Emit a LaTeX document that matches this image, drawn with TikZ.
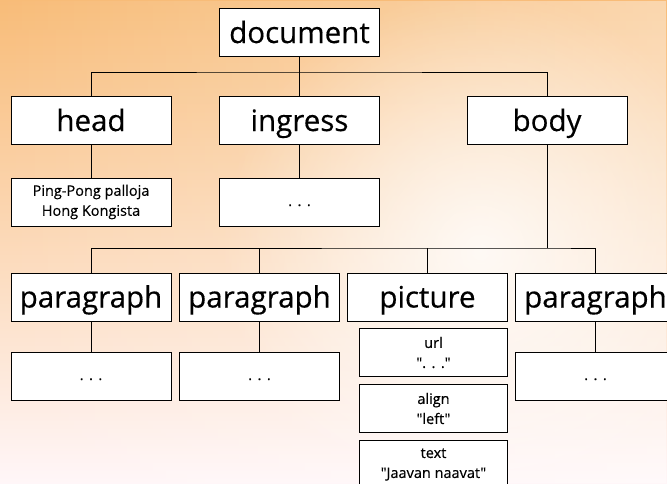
\documentclass[tikz,border=0pt]{standalone}
\usepackage{fontspec}
\newfontfamily\labelfont{Open Sans}[FakeBold=0.4]
\usepackage{tikz}
\usetikzlibrary{positioning,fadings}
\definecolor{bgorange}{RGB}{248,188,120}
\definecolor{bgyellow}{RGB}{252,214,148}
\definecolor{bgwhite}{RGB}{255,246,248}
\tikzfading[name=glow, inner color=transparent!0, outer color=transparent!100]
\newcommand\ellip{.\kern5.5pt.\kern5.5pt.}
\tikzset{
  tag/.style={draw, fill=white, line width=1pt, minimum width=160pt, minimum height=48pt,
              inner sep=0pt, text height=23pt, text depth=2pt,
              font=\labelfont\fontsize{29.5}{32}\selectfont},
  leaf/.style={draw, fill=white, line width=1pt, minimum width=160pt, minimum height=48pt,
               inner sep=0pt, align=center, font=\labelfont\fontsize{14.5}{20}\selectfont},
  attr/.style={leaf, minimum width=148pt},
  wire/.style={line width=1pt},
}

\begin{document}
\begin{tikzpicture}[x=1pt, y=-1pt]
  \useasboundingbox (0,0) rectangle (667,483);
  % background
  \shade[top color=bgorange, middle color=bgyellow, bottom color=bgwhite] (0,0) rectangle (667,483);
  \fill[white, path fading=west, fill opacity=0.4] (0,0) rectangle (667,483);
  \fill[white, path fading=glow, fill opacity=0.8] (480,250) circle (260);

  \node[tag] (doc) at (299.5,32.5) {document};
  \node[tag] (head) at (91,120.5) {head};
  \node[tag] (ingress) at (299.5,120.5) {ingress};
  \node[tag] (body) at (547,120.5) {body};

  \node[leaf] (title) at (91,202) {Ping-Pong palloja\\Hong Kongista};
  \node[leaf] (ingtext) at (299.5,202) {\strut\ellip};

  \node[tag] (para1) at (91,297) {paragraph};
  \node[tag] (para2) at (259.5,297) {paragraph};
  \node[tag] (pic) at (427.5,297) {picture};
  \node[tag] (para3) at (595.5,297) {paragraph};

  \node[leaf] (ptext1) at (91,376) {\strut\ellip};
  \node[leaf] (ptext2) at (259.5,376) {\strut\ellip};
  \node[leaf] (ptext3) at (595.5,376) {\strut\ellip};

  \node[attr] (url) at (433.5,352.5) {url\\"\ellip"};
  \node[attr] (align) at (433.5,408.5) {align\\"left"};
  \node[attr] (text) at (433.5,464.5) {text\\"Jaavan naavat"};

  \coordinate (bus1) at (299.5,72);
  \coordinate (bus2) at (547,248);

  \draw[wire] (doc) -- (ingress);
  \draw[wire] (head.north) |- (bus1) -| (body.north);
  \draw[wire] (head) -- (title);
  \draw[wire] (ingress) -- (ingtext);

  \draw[wire] (body) -- (bus2);
  \draw[wire] (para1.north) |- (bus2) -| (para3.north);
  \draw[wire] (para2.north) -- (para2.north |- bus2);
  \draw[wire] (pic.north) -- (pic.north |- bus2);
  \draw[wire] (para1) -- (ptext1);
  \draw[wire] (para2) -- (ptext2);
  \draw[wire] (para3) -- (ptext3);
\end{tikzpicture}
\end{document}
